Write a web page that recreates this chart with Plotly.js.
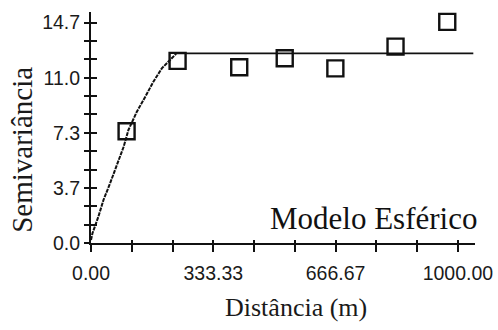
<!DOCTYPE html>
<html>
<head>
<meta charset="utf-8">
<script src="https://cdn.plot.ly/plotly-3.0.1.min.js"></script>
<style>
html,body{margin:0;padding:0;background:#fff;}
#chart{width:498px;height:330px;}
</style>
</head>
<body>
<div id="chart"></div>
<script>
// Experimental semivariogram points
const lagDistance = [97, 236, 404, 528, 666, 830, 971];
const semivariance = [7.45, 12.15, 11.72, 12.32, 11.65, 13.1, 14.75];

// Fitted spherical model
const modelRiseX = [0, 4, 20, 34, 52, 89, 102, 125, 148, 170, 193, 211, 232];
const modelRiseY = [0.2, 0.65, 1.75, 2.87, 3.98, 6.42, 7.54, 8.76, 9.76, 10.76, 11.65, 12.09, 12.62];
const modelSillX = [232, 1042];
const modelSillY = [12.65, 12.65];

// Axis ticks
const xTickVals = [0, 111.11, 222.22, 333.33, 444.44, 555.56, 666.67, 777.78, 888.89, 1000];
const xTickText = ['0.00', '', '', '333.33', '', '', '666.67', '', '', '1000.00'];
const yTickVals = [0, 1.225, 2.45, 3.675, 4.9, 6.125, 7.35, 8.575, 9.8, 11.025, 12.25, 13.475, 14.7];
const yTickText = ['0.0', '', '', '3.7', '', '', '7.3', '', '', '11.0', '', '', '14.7'];

const xRange = [0, 1046.6];
const yRange = [0, 15.41];

const traces = [
  {x: modelRiseX, y: modelRiseY, mode: 'lines', type: 'scatter',
   line: {color: '#111', width: 2, dash: '4px,1px'}, hoverinfo: 'skip', showlegend: false},
  {x: modelSillX, y: modelSillY, mode: 'lines', type: 'scatter',
   line: {color: '#111', width: 1.8}, hoverinfo: 'skip', showlegend: false},
  {x: lagDistance, y: semivariance, mode: 'markers', type: 'scatter',
   marker: {symbol: 'square-open', size: 16, color: '#111', line: {width: 2.4, color: '#111'}},
   showlegend: false},
  // invisible trace to activate the overlay axes
  {x: [0], y: [0], xaxis: 'x2', yaxis: 'y2', mode: 'markers', marker: {opacity: 0}, hoverinfo: 'skip', showlegend: false}
];

const tickFont = {family: 'Liberation Sans, Arial, sans-serif', size: 19.5, color: '#1a1a1a'};

const layout = {
  width: 498, height: 330,
  margin: {l: 91, r: 23, t: 12, b: 87},
  paper_bgcolor: '#fff', plot_bgcolor: '#fff',
  showlegend: false,
  xaxis: {
    range: xRange, showgrid: false, zeroline: false,
    showline: true, linecolor: '#111', linewidth: 2,
    tickmode: 'array', tickvals: xTickVals, ticktext: xTickText,
    ticks: 'outside', ticklen: 7, tickwidth: 2, tickcolor: '#111',
    tickfont: tickFont, ticklabelstandoff: 5
  },
  yaxis: {
    range: yRange, showgrid: false, zeroline: false,
    showline: true, linecolor: '#111', linewidth: 2,
    tickmode: 'array', tickvals: yTickVals, ticktext: yTickText,
    ticks: 'outside', ticklen: 5, tickwidth: 2, tickcolor: '#111',
    tickfont: tickFont
  },
  xaxis2: {
    overlaying: 'x', range: xRange, showgrid: false, zeroline: false, showline: false,
    tickmode: 'array', tickvals: xTickVals, showticklabels: false,
    ticks: 'inside', ticklen: 3, tickwidth: 2, tickcolor: '#111'
  },
  yaxis2: {
    overlaying: 'y', range: yRange, showgrid: false, zeroline: false, showline: false,
    tickmode: 'array', tickvals: yTickVals, showticklabels: false,
    ticks: 'inside', ticklen: 6, tickwidth: 2, tickcolor: '#111'
  },
  annotations: [
    {text: 'Modelo Esférico', xref: 'paper', yref: 'paper', x: 1.01, y: 0.108,
     xanchor: 'right', yanchor: 'middle', showarrow: false,
     font: {family: 'Liberation Serif, Times New Roman, serif', size: 31, color: '#111'}},
    {text: 'Distância (m)', xref: 'paper', yref: 'paper', x: 0.535, y: -0.281,
     xanchor: 'center', yanchor: 'middle', showarrow: false,
     font: {family: 'Liberation Serif, Times New Roman, serif', size: 26, color: '#1a1a1a'}},
    {text: 'Semivariância', xref: 'paper', yref: 'paper', x: -0.18, y: 0.403,
     xanchor: 'center', yanchor: 'middle', textangle: -90, showarrow: false,
     font: {family: 'Liberation Serif, Times New Roman, serif', size: 29, color: '#1a1a1a'}}
  ]
};

Plotly.newPlot('chart', traces, layout, {staticPlot: true, displayModeBar: false});
</script>
</body>
</html>
